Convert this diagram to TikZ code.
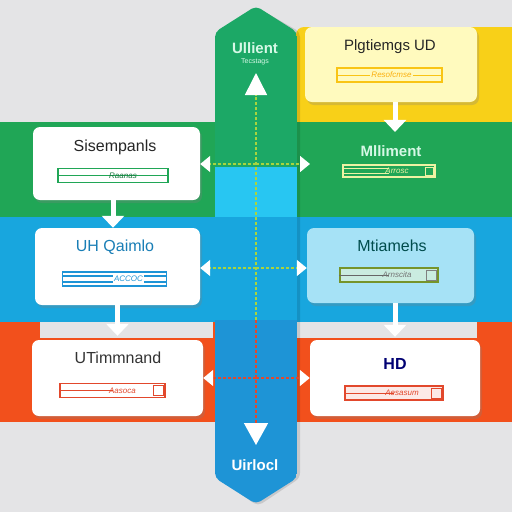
\documentclass[tikz,border=0pt]{standalone}
\usepackage{fontspec}
\setmainfont{Liberation Sans}
\usetikzlibrary{arrows.meta,shadows}
\definecolor{cbg}{RGB}{228,228,230}
\definecolor{cgreen}{RGB}{32,166,86}
\definecolor{ccolgreen}{RGB}{28,168,102}
\definecolor{cyellow}{RGB}{248,208,24}
\definecolor{cblue}{RGB}{24,166,222}
\definecolor{ccyan}{RGB}{40,198,242}
\definecolor{ccol}{RGB}{30,148,214}
\definecolor{corange}{RGB}{242,80,28}
\definecolor{cpale}{RGB}{255,250,190}
\definecolor{cice}{RGB}{166,226,246}
\definecolor{cmint}{RGB}{214,248,230}
\definecolor{lgreen}{RGB}{168,212,62}
\definecolor{lred}{RGB}{226,72,44}
\tikzset{flowsec/.style={x=1pt,y=-1pt,font=\fontsize{15}{17}\selectfont},
  card/.style={rounded corners=7pt,inner sep=0pt,
    drop shadow={opacity=0.28,shadow xshift=2pt,shadow yshift=-3pt}},
  barbox/.style={draw=#1,line width=1.3pt,minimum width=104,minimum height=14,inner sep=0pt},
  icon/.style={draw=#1,line width=1pt,minimum size=10,inner sep=0pt},
  scrib/.style={font=\fontsize{8}{8}\selectfont\itshape,inner sep=1pt},
  hop/.style={draw=#1,line width=1.5pt,dash pattern=on 3pt off 2pt,
    -{Triangle[color=white,fill=white,length=10pt,width=16pt]}},
  stemarrow/.style={white,line width=5pt,-{Triangle[length=12pt,width=22pt]}}}

\begin{document}
\begin{tikzpicture}[flowsec]
    \useasboundingbox (0,0) rectangle (512,512);
    \fill[cbg] (0,0) rectangle (512,512);
    % bands
    \fill[cyellow,rounded corners=8pt] (296,27) rectangle (540,150);
    \fill[cgreen] (0,122) rectangle (512,217);
    \fill[cblue] (0,217) rectangle (512,322);
    \fill[corange] (0,322) rectangle (512,422);
    \fill[cbg] (40,322) rectangle (213,338);
    \fill[cbg] (297,322) rectangle (477,338);
    % column
    \fill[black,opacity=0.12,rounded corners=5pt] (217,32) -- (258,8) -- (300,32) -- (300,478) -- (258,506) -- (217,478) -- cycle;
    \begin{scope}
      \clip[rounded corners=5pt] (215,32) -- (256,6) -- (297,32) -- (297,478) -- (256,504) -- (215,478) -- cycle;
      \fill[ccolgreen] (215,0) rectangle (297,167);
      \fill[ccyan] (215,167) rectangle (297,217);
      \fill[cblue] (215,217) rectangle (297,320);
      \fill[ccol] (215,320) rectangle (297,512);
    \end{scope}
    \node[font=\fontsize{15}{17}\selectfont\bfseries,text=cmint] (colt) at (255,48) {Ullient};
    \node[scrib,font=\fontsize{7}{7}\selectfont,text=cmint] (cols) at (255,62) {Tecstags};
    \node[font=\fontsize{15}{17}\selectfont\bfseries,text=white] (colb) at (255,465) {Uirlocl};
    % cards
    \node[card,fill=white,minimum width=167,minimum height=73] (l1) at (116.5,163.5) {};
    \node[card,fill=white,minimum width=165,minimum height=77] (l2) at (117.5,266.5) {};
    \node[card,fill=white,minimum width=171,minimum height=76] (l3) at (117.5,378) {};
    \node[card,fill=cpale,minimum width=172,minimum height=75] (r1) at (391,64.5) {};
    \node[card,fill=cice,minimum width=167,minimum height=75] (r3) at (390.5,265.5) {};
    \node[card,fill=white,minimum width=170,minimum height=76] (r4) at (395,378) {};
    % titles
    \node[text=black!85,font=\fontsize{16}{18}\selectfont] (l1t) at (115,147) {Sisempanls};
    \node[text=ccol!85!black,font=\fontsize{16}{18}\selectfont] (l2t) at (115,247) {UH Qaimlo};
    \node[text=black!80,font=\fontsize{16}{18}\selectfont] (l3t) at (118,358) {UTimmnand};
    \node[text=black!85] (r1t) at (390,47) {Plgtiemgs UD};
    \node[text=cmint,font=\fontsize{15}{17}\selectfont\bfseries] (r2t) at (391,151) {Mlliment};
    \node[text=teal!60!black,font=\fontsize{16}{18}\selectfont] (r3t) at (392,246) {Mtiamehs};
    \node[text=blue!45!black,font=\fontsize{16}{18}\selectfont\bfseries] (r4t) at (395,364) {HD};
    % bars
    \node[barbox=cgreen,fill=white,minimum width=110] (l1b) at (113,175.5) {};
    \draw[cgreen,line width=1pt] (l1b.west) -- (l1b.east);
    \node[scrib,text=cgreen!70!black] at ([xshift=10pt]l1b.center) {Raanas};
    \node[barbox=ccol,fill=white] (l2b) at (114.5,279) {};
    \draw[ccol,line width=1.4pt] ([yshift=-3pt]l2b.west) -- ([yshift=-3pt]l2b.east);
    \draw[ccol,line width=1.4pt] ([yshift=3pt]l2b.west) -- ([yshift=3pt]l2b.east);
    \node[scrib,text=ccol,fill=white] at ([xshift=14pt]l2b.center) {ACCOC};
    \node[barbox=lred,fill=white,minimum width=105] (l3b) at (112.5,390.5) {};
    \draw[lred,line width=1pt] (l3b.west) -- (l3b.center);
    \node[scrib,text=lred] at ([xshift=10pt]l3b.center) {Aasoca};
    \node[icon=lred] at ([xshift=-7pt]l3b.east) {};
    \node[barbox=cyellow!85!orange,fill=cpale,minimum width=105] (r1b) at (389.5,75) {};
    \draw[cyellow!85!orange,line width=1pt] (r1b.west) -- (r1b.east);
    \node[scrib,text=cyellow!60!orange,fill=cpale] at ([xshift=2pt]r1b.center) {Resofcmse};
    \node[barbox=cpale!80!lgreen,minimum width=92,minimum height=12] (r2b) at (389,171) {};
    \draw[cpale!80!lgreen,line width=1.2pt] ([yshift=-2.5pt]r2b.west) -- ([yshift=-2.5pt]r2b.center);
    \draw[cpale!80!lgreen,line width=1.2pt] ([yshift=2.5pt]r2b.west) -- ([yshift=2.5pt]r2b.center);
    \node[scrib,text=cpale!80!lgreen] at ([xshift=8pt]r2b.center) {Arrosc};
    \node[icon=cpale!80!lgreen,minimum size=8] at ([xshift=-6pt]r2b.east) {};
    \node[barbox=lgreen!70!black,fill=cpale!40!cice,minimum width=98] (r3b) at (389,275) {};
    \draw[black!60,line width=1pt] (r3b.west) -- (r3b.center);
    \node[scrib,text=black!55] at ([xshift=8pt]r3b.center) {Arnscita};
    \node[icon=black!50] at ([xshift=-7pt]r3b.east) {};
    \node[barbox=lred,fill=lred!12,minimum width=98] (r4b) at (394,393) {};
    \draw[lred,line width=1pt] (r4b.west) -- (r4b.center);
    \node[scrib,text=lred] at ([xshift=8pt]r4b.center) {Aesasum};
    \node[icon=lred] at ([xshift=-7pt]r4b.east) {};
    % links between cards
    \draw[stemarrow] ([xshift=-3.5pt]l1.south) -- ([xshift=-4.5pt]l2.north);
    \draw[stemarrow,shorten >=4pt] (l2.south) -- (l3.north);
    \draw[stemarrow,shorten >=10pt] ([xshift=4pt]r1.south) -- ([xshift=4pt]r2t.north);
    \draw[stemarrow,shorten >=3pt] ([xshift=4.5pt]r3.south) -- (r4.north);
    % dashed guides
    \coordinate (h1) at (256,164);
    \coordinate (h2) at (256,268);
    \coordinate (h3) at (256,378);
    \coordinate (r2a) at (310,164);
    \coordinate (vtop) at (256,73);
    \coordinate (vmid) at (256,320);
    \coordinate (vbot) at (256,445);
    \draw[hop=lgreen] (h1) -- (h1 -| l1.east);
    \draw[hop=lgreen] (h1) -- (r2a);
    \draw[hop=lgreen] (h2) -- (h2 -| l2.east);
    \draw[hop=lgreen] (h2) -- (h2 -| r3.west);
    \draw[hop=lred] (h3) -- (h3 -| l3.east);
    \draw[hop=lred] (h3) -- (h3 -| r4.west);
    \draw[hop=lgreen,-{Triangle[color=white,fill=white,length=22pt,width=22pt]}] (vmid) -- (vtop);
    \draw[hop=lred,-{Triangle[color=white,fill=white,length=22pt,width=24pt]}] (vmid) -- (vbot);
\end{tikzpicture}
\end{document}
